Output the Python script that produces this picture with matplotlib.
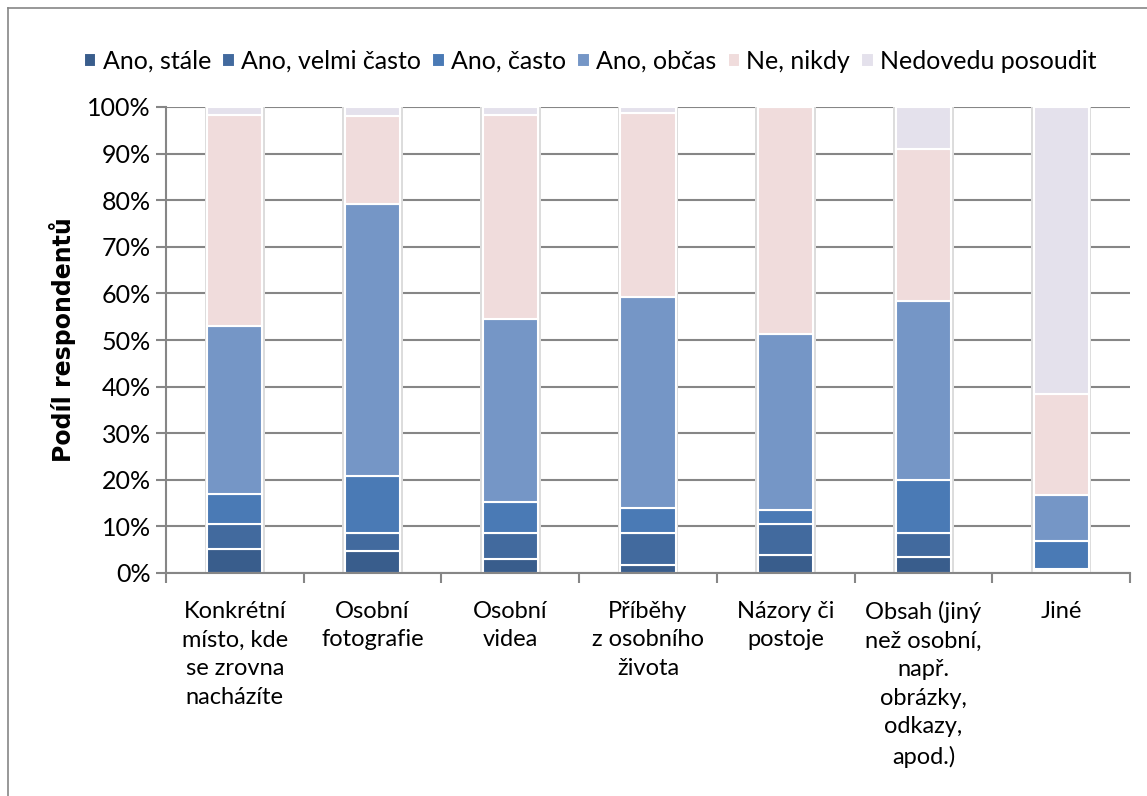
import matplotlib
matplotlib.use('Agg')
import matplotlib.pyplot as plt
from matplotlib.lines import Line2D
from matplotlib.ticker import MultipleLocator, PercentFormatter
import numpy as np

plt.rcParams['font.family'] = ['Lato', 'DejaVu Sans']

categories = [
    'Konkrétní\nmísto, kde\nse zrovna\nnacházíte',
    'Osobní\nfotografie',
    'Osobní\nvidea',
    'Příběhy\nz osobního\nživota',
    'Názory či\npostoje',
    'Obsah (jiný\nnež osobní,\nnapř.\nobrázky,\nodkazy,\napod.)',
    'Jiné',
]
series_names = ['Ano, stále', 'Ano, velmi často', 'Ano, často', 'Ano, občas',
                'Ne, nikdy', 'Nedovedu posoudit']

# shares in %
ano_stale = [5.2, 4.7, 3.0, 1.7, 3.9, 3.5, 0.5]
ano_velmi_casto = [5.4, 3.8, 5.5, 6.8, 6.7, 5.0, 0.4]
ano_casto = [6.4, 12.3, 6.8, 5.5, 2.9, 11.4, 5.9]
ano_obcas = [36.0, 58.4, 39.3, 45.2, 37.7, 38.4, 10.0]
ne_nikdy = [45.3, 18.8, 43.7, 39.6, 48.8, 32.7, 21.7]
nedovedu = [1.7, 2.0, 1.7, 1.2, 0.0, 9.0, 61.5]

colors = ['#395D8C', '#426A9E', '#4A7AB5', '#7596C6', '#F0DCDC', '#E4E1EC']

fig = plt.figure(figsize=(11.47, 7.96), dpi=100)
ax = fig.add_axes([166 / 1147, 1 - 573 / 796, 964 / 1147, 466 / 796])

x = np.arange(len(categories))
all_series = [ano_stale, ano_velmi_casto, ano_casto, ano_obcas, ne_nikdy, nedovedu]
totals = np.sum(all_series, axis=0)

# soft grey halo behind each stacked column
ax.bar(x, totals, 0.44, color='#DCDCDC', zorder=2.5)

bottom = np.zeros(len(categories))
for name, vals, c in zip(series_names, all_series, colors):
    vals = np.array(vals)
    ax.bar(x, vals, 0.4, bottom=bottom, color=c, edgecolor='white', linewidth=1.5,
           label=name, zorder=3)
    bottom += vals

ax.set_xlim(-0.5, len(categories) - 0.5)
ax.set_ylim(0, 100)
ax.yaxis.set_major_locator(MultipleLocator(10))
ax.yaxis.set_major_formatter(PercentFormatter(decimals=0))
ax.grid(axis='y', color='#868686', linewidth=1.5, zorder=0)

ax.set_xticks(x)
ax.set_xticklabels(categories, fontsize=17, linespacing=1.45, va='top')
ax.set_xticks(np.arange(-0.5, len(categories)), minor=True)
ax.tick_params(axis='x', which='major', length=0, pad=20)
ax.tick_params(axis='x', which='minor', length=7, color='#868686', width=1.5)
ax.tick_params(axis='y', length=7, color='#868686', width=1.5, labelsize=18, pad=4)

for s in ['top', 'right']:
    ax.spines[s].set_visible(False)
for s in ['left', 'bottom']:
    ax.spines[s].set_color('#868686')
    ax.spines[s].set_linewidth(1.5)
    ax.spines[s].set_zorder(4)

ax.set_ylabel('Podíl respondentů', fontsize=17, fontweight='bold',
              family='DejaVu Sans', labelpad=8)

ax.legend(loc='lower center', bbox_to_anchor=(0.44, 1.025), ncol=6, frameon=False,
          fontsize=18, handlelength=0.5, handleheight=0.5, handletextpad=0.25,
          columnspacing=0.45)

# outer chart border
fig.add_artist(Line2D([8 / 1147, 8 / 1147], [0, 1 - 8 / 796], color='#868686', lw=1.2,
                      transform=fig.transFigure))
fig.add_artist(Line2D([8 / 1147, 1], [1 - 8 / 796, 1 - 8 / 796], color='#868686', lw=1.2,
                      transform=fig.transFigure))

fig.savefig('out.png', dpi=100)
